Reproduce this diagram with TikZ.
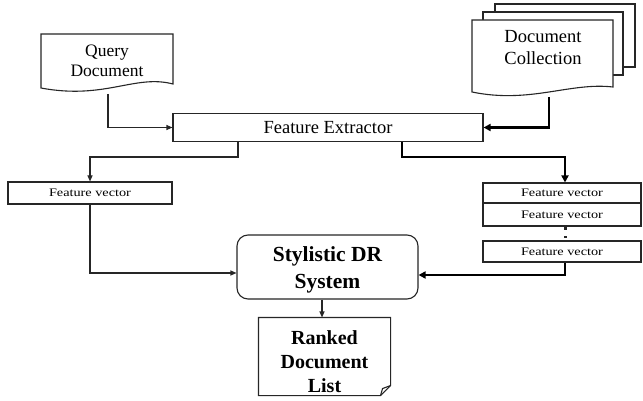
\documentclass[tikz,border=0pt]{standalone}
\usepackage{fontspec}
\setmainfont{Liberation Serif}
\usetikzlibrary{arrows.meta}
\begin{document}
\begin{tikzpicture}[x=1pt,y=-1pt,
  line width=1.1pt, draw=black!85,
  box/.style={draw=black!85, line width=1.1pt, fill=white, inner sep=0pt},
  fvbox/.style={box, minimum width=158pt},
  arr/.style={draw=black!85, line width=1.1pt, -{Triangle[length=6pt,width=5pt]}},
  tarr/.style={draw=black, line width=2.4pt, -{Triangle[length=7pt,width=7pt]}},
  fvtext/.style={font=\fontsize{11.5}{13}\selectfont},
]
\useasboundingbox (0,0) rectangle (643,401);
\newcommand{\fvlabel}{\raisebox{-3.5pt}{\scalebox{1.24}[1]{Feature vector}}}

% Query document shape
\draw[fill=white] (41,34) -- (173,34) -- (173,84)
  .. controls (135,74) and (105,100) .. (41,88) -- cycle;
\node[align=center, font=\fontsize{17.5}{20}\selectfont] (qd) at (107,61) {Query\\Document};
\coordinate (qb) at (108,94);

% Document collection (stacked pages)
\draw[fill=white] (495,4) rectangle (635,67);
\draw[fill=white] (483,12) rectangle (623,75);
\draw[fill=white] (472,20) -- (613,20) -- (613,87)
  .. controls (570,82) and (530,104) .. (472,92) -- cycle;
\node[align=center, font=\fontsize{18.5}{22}\selectfont] (dc) at (543,48) {Document\\Collection};
\coordinate (cb) at (549,97);

% Feature extractor
\node[box, minimum width=310pt, minimum height=28pt, font=\fontsize{18.5}{22}\selectfont] (fe) at (328,127.5) {Feature Extractor};

% Feature vectors
\node[box, minimum width=164pt, minimum height=22pt, fvtext] (fvl) at (90,193) {\fvlabel};
\node[fvbox, minimum height=20pt, fvtext] (fv1) at (562,193) {\fvlabel};
\node[fvbox, minimum height=23pt, fvtext] (fv2) at (562,214.5) {\fvlabel};
\node[fvbox, minimum height=21pt, fvtext] (fv3) at (562,251.5) {\fvlabel};
\fill[black!85] (564,227) rectangle (566.5,229.5);
\fill[black!85] (564,235.5) rectangle (566.5,238);

% Stylistic DR system
\node[box, rounded corners=11pt, minimum width=181pt, minimum height=64pt] (sdr) at (327.5,267) {};
\node[align=center, font=\bfseries\fontsize{21.5}{27}\selectfont] (sdrt) at (327.5,269.5) {Stylistic DR\\System};

% Ranked document list
\node[minimum width=131pt, minimum height=77pt, inner sep=0pt] (rk) at (324.5,356.5) {};
\draw[fill=white] (rk.north west) -- (rk.north east) -- ([yshift=10pt]rk.south east)
  -- ([xshift=-10pt]rk.south east) -- (rk.south west) -- cycle;
\draw ([xshift=-10pt]rk.south east) -- ([xshift=-8pt,yshift=7pt]rk.south east) -- ([yshift=10pt]rk.south east);
\node[align=center, font=\bfseries\fontsize{20}{24}\selectfont] (rkt) at (324.5,362) {Ranked\\Document\\List};

% Connectors
\draw[arr] (qb) |- (fe.west);
\draw[tarr] (cb) |- (fe.east);
\draw[arr] ([xshift=-90pt]fe.south) -- ++(0,15) -| (fvl.north);
\draw[tarr] ([xshift=74pt]fe.south) -- ++(0,15) -| ([xshift=3pt]fv1.north);
\draw[arr] (fvl.south) |- ([yshift=-6pt]sdr.west);
\draw[tarr] ([xshift=3pt]fv3.south) |- ([yshift=-8pt]sdr.east);
\draw[arr] (sdr.south -| 322,0) -- (rk.north -| 322,0);
\end{tikzpicture}
\end{document}
